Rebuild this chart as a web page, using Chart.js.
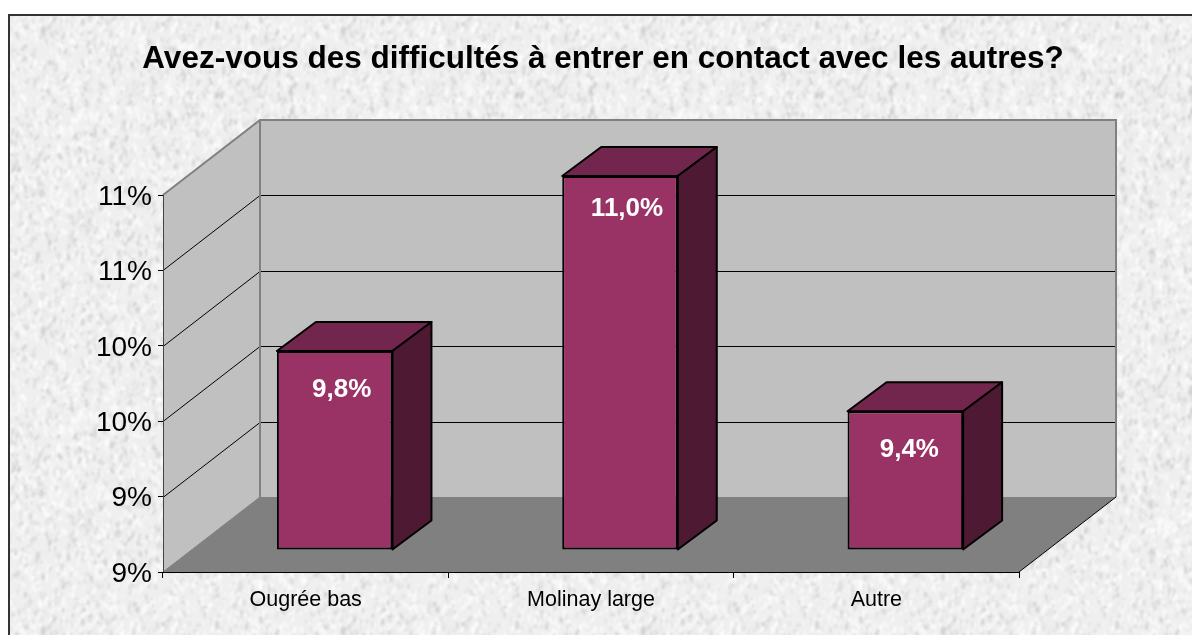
<!DOCTYPE html>
<html><head><meta charset="utf-8">
<style>html,body{margin:0;padding:0;background:#fff;overflow:hidden}#w{position:absolute;left:0;top:0;width:1192px;height:635px}</style>
<script src="https://cdn.jsdelivr.net/npm/chart.js@4"></script>
</head><body><div id="w"><canvas id="c" width="1192" height="635"></canvas></div>
<script>
const categories = ['Ougrée bas', 'Molinay large', 'Autre'];
const seriesValues = [9.82, 10.98, 9.42];
const titleText = 'Avez-vous des difficultés à entrer en contact avec les autres?';
const axisMin = 8.5, axisMax = 11, axisStep = 0.5;

const FONT = '"Liberation Sans", Arial, sans-serif';
const WALL = {dx: 97, dy: -75};
const BAR = {dx: 29, dy: -22, ddx: 39, ddy: -29};
const LABEL_NUDGE = [[7, 39], [7, 33], [4, 39]];

function makeTexture() {
  const size = 300, t = document.createElement('canvas');
  t.width = t.height = size;
  const g = t.getContext('2d');
  g.fillStyle = '#efefef'; g.fillRect(0, 0, size, size);
  let s = 12345;
  const r = () => (s = (s * 1664525 + 1013904223) >>> 0) / 4294967296;
  const off = document.createElement('canvas');
  off.width = off.height = size;
  const o = off.getContext('2d');
  for (let i = 0; i < 4200; i++) {
    const v = r() < .55 ? 255 : 195 + Math.floor(r() * 30);
    o.strokeStyle = `rgba(${v},${v},${v},${.35 + r() * .45})`;
    o.lineWidth = 1.5 + r() * 2;
    const x = r() * size, y = r() * size, a = 1.1 + r() * 1.1, l = 2 + r() * 6;
    for (const ox of [-size, 0, size]) for (const oy of [-size, 0, size]) {
      if (Math.abs(ox) + Math.abs(oy) > 0 && (x > 10 && x < size - 10 && y > 10 && y < size - 10)) continue;
      o.beginPath(); o.moveTo(x + ox, y + oy);
      o.lineTo(x + ox + Math.cos(a) * l, y + oy + Math.sin(a) * l); o.stroke();
    }
  }
  g.filter = 'blur(1px)';
  g.drawImage(off, 0, 0);
  g.filter = 'none';
  return t;
}
const texture = makeTexture();

function poly(ctx, pts, fill, stroke, lw) {
  ctx.beginPath();
  pts.forEach((p, i) => i ? ctx.lineTo(p[0], p[1]) : ctx.moveTo(p[0], p[1]));
  ctx.closePath();
  if (fill) { ctx.fillStyle = fill; ctx.fill(); }
  if (stroke) { ctx.strokeStyle = stroke; ctx.lineWidth = lw || 1; ctx.stroke(); }
}

const scene = {
  id: 'scene',
  beforeDraw(chart) {
    const c = chart.ctx, a = chart.chartArea, sy = chart.scales.y;
    c.save();
    c.fillStyle = c.createPattern(texture, 'repeat');
    c.fillRect(9, 15, 1183, 620);
    c.strokeStyle = '#333'; c.lineWidth = 2;
    c.beginPath(); c.moveTo(9, 635); c.lineTo(9, 15); c.lineTo(1192, 15); c.stroke();
    const L = a.left, R = a.right, T = a.top, B = a.bottom, dx = WALL.dx, dy = WALL.dy;
    poly(c, [[L, T], [L + dx, T + dy], [L + dx, B + dy], [L, B]], '#c0c0c0');
    poly(c, [[L + dx, T + dy], [R + dx, T + dy], [R + dx, B + dy], [L + dx, B + dy]], '#c0c0c0');
    poly(c, [[L, B], [L + dx, B + dy], [R + dx, B + dy], [R, B]], '#808080');
    sy.ticks.forEach(t => {
      const y = Math.round(sy.getPixelForValue(t.value));
      if (t.value === axisMin || t.value === axisMax) return;
      c.strokeStyle = '#000'; c.lineWidth = 1;
      c.beginPath(); c.moveTo(L, y + .5); c.lineTo(L + dx, y + dy + .5); c.lineTo(R + dx, y + dy + .5); c.stroke();
    });
    c.strokeStyle = '#808080'; c.lineWidth = 2;
    c.beginPath(); c.moveTo(L, T); c.lineTo(L + dx, T + dy); c.lineTo(R + dx, T + dy); c.lineTo(R + dx, B + dy); c.stroke();
    c.beginPath(); c.moveTo(L + dx, T + dy); c.lineTo(L + dx, B + dy); c.stroke();
    c.beginPath(); c.moveTo(L + dx, B + dy); c.lineTo(L, B); c.lineWidth = 1; c.stroke();
    c.strokeStyle = '#000'; c.lineWidth = 1;
    c.beginPath(); c.moveTo(R, B); c.lineTo(R + dx, B + dy); c.stroke();
    c.beginPath(); c.moveTo(L + .5, T); c.lineTo(L + .5, B); c.strokeStyle = '#444'; c.stroke();
    c.restore();
  },
  beforeDatasetDraw(chart) {
    chart.ctx.save();
    chart.ctx.translate(BAR.dx, BAR.dy);
  },
  afterDatasetDraw(chart, args) {
    const c = chart.ctx;
    c.restore();
    c.save();
    c.lineJoin = 'round';
    const meta = chart.getDatasetMeta(args.index);
    meta.data.forEach((bar, i) => {
      const p = bar.getProps(['x', 'y', 'base', 'width'], true);
      const x0 = p.x - p.width / 2 + BAR.dx, x1 = p.x + p.width / 2 + BAR.dx;
      const y0 = p.y + BAR.dy, y1 = p.base + BAR.dy, u = BAR.ddx, v = BAR.ddy;
      poly(c, [[x0, y0], [x0 + u, y0 + v], [x1 + u, y0 + v], [x1, y0]], '#73264d', '#000', 2);
      poly(c, [[x1, y0], [x1 + u, y0 + v], [x1 + u, y1 + v], [x1, y1]], '#4d1933', '#000', 2);
      c.fillStyle = '#fff';
      c.font = 'bold 26px ' + FONT;
      c.textAlign = 'center'; c.textBaseline = 'middle';
      c.fillText(seriesValues[i].toFixed(1).replace('.', ',') + '%', (x0 + x1) / 2 + LABEL_NUDGE[i][0], y0 + LABEL_NUDGE[i][1]);
    });
    c.restore();
  }
};

new Chart(document.getElementById('c'), {
  type: 'bar',
  data: {
    labels: categories,
    datasets: [{
      data: seriesValues,
      base: axisMin,
      clip: false,
      backgroundColor: '#993366',
      borderColor: '#000',
      borderWidth: 2,
      borderSkipped: false,
      categoryPercentage: 1,
      barPercentage: 0.405
    }]
  },
  plugins: [scene],
  options: {
    responsive: false,
    animation: false,
    layout: {padding: {left: 14, right: 0, top: 0, bottom: 0}},
    plugins: {
      legend: {display: false},
      tooltip: {enabled: false},
      title: {
        display: true,
        text: titleText,
        color: '#000',
        font: {family: FONT, size: 31.5, weight: 'bold'},
        padding: {top: 40, bottom: 117.2}
      }
    },
    scales: {
      x: {
        offset: true,
        border: {color: '#000', width: 1},
        grid: {drawOnChartArea: false, drawTicks: true, tickLength: 6, color: '#000', offset: true},
        ticks: {color: '#000', font: {family: FONT, size: 21.5}, padding: 9, maxRotation: 0},
        afterFit(s) { s.height = 63; }
      },
      y: {
        min: axisMin, max: axisMax,
        border: {display: false},
        grid: {drawOnChartArea: false, drawTicks: true, tickLength: 5, color: '#000'},
        ticks: {stepSize: axisStep, color: '#000', font: {family: FONT, size: 28}, padding: 6, labelOffset: 2,
          callback: v => Math.round(v) + '%'},
        afterFit(s) { s.width = 149; }
      },
      yR: {
        position: 'right',
        display: true,
        min: axisMin, max: axisMax,
        border: {display: false},
        grid: {display: false},
        ticks: {display: false},
        afterFit(s) { s.width = 173; }
      }
    }
  }
});
</script></body></html>
